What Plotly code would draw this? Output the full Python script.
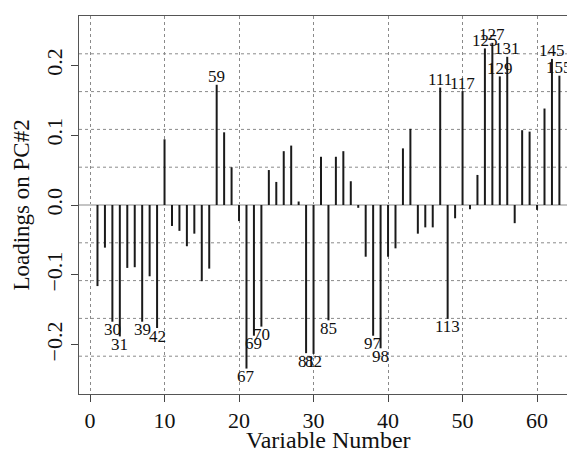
import plotly.graph_objects as go

# Loadings on PC#2 for variables 1..63
variable_number = list(range(1, 64))
loadings = [
    -0.116, -0.061, -0.167, -0.188, -0.090, -0.089, -0.167, -0.102, -0.176, 0.094,
    -0.030, -0.037, -0.059, -0.041, -0.109, -0.091, 0.172, 0.104, 0.054, -0.023,
    -0.234, -0.187, -0.174, 0.050, 0.033, 0.077, 0.085, 0.005, -0.212, -0.213,
    0.069, -0.165, 0.069, 0.077, 0.034, -0.004, -0.074, -0.187, -0.205, -0.074,
    -0.062, 0.081, 0.109, -0.041, -0.032, -0.032, 0.168, -0.163, -0.019, 0.163,
    -0.006, 0.043, 0.224, 0.232, 0.184, 0.212, -0.026, 0.107, 0.105, -0.007,
    0.138, 0.209, 0.185,
]
# labelled variables (index -> original variable id)
label_index = [3, 4, 7, 9, 17, 21, 22, 23, 29, 30, 32, 38, 39, 47, 48, 50, 53, 54, 55, 56, 62, 63]
label_text = ["30", "31", "39", "42", "59", "67", "69", "70", "81", "82", "85", "97", "98",
              "111", "113", "117", "125", "127", "129", "131", "145", "155"]
x_ticks = [0, 10, 20, 30, 40, 50, 60]
y_ticks = [-0.2, -0.1, 0.0, 0.1, 0.2]
y_tick_text = ["\u22120.2", "\u22120.1", "0.0", "0.1", "0.2"]

FONT = "Liberation Serif, Times New Roman, serif"
ylo, yhi = -0.2704, 0.2704
x_lo, x_hi = -1.48, 64.02

xs, ys = [], []
for xv, v in zip(variable_number, loadings):
    xs += [xv, xv, None]
    ys += [0, v, None]

fig = go.Figure()
fig.add_trace(go.Scatter(x=xs, y=ys, mode="lines",
                         line=dict(color="#1a1a1a", width=2),
                         hoverinfo="skip", showlegend=False))

for idx, txt in zip(label_index, label_text):
    v = loadings[idx - 1]
    fig.add_annotation(x=idx, y=v, text=txt, showarrow=False,
                       xanchor="center", yanchor="middle",
                       yshift=8 if v > 0 else -8,
                       font=dict(family=FONT, size=17, color="#111"))

# x-axis title, centred on the full (uncropped) plot region
fig.add_annotation(x=(x_lo + 65.48) / 2, xref="x", y=0, yref="paper",
                   yshift=-46, yanchor="middle", xanchor="center",
                   text="Variable Number", showarrow=False,
                   font=dict(family=FONT, size=24, color="#111"))

# dotted horizontal grid: 10 equal divisions of plot region
for k in range(1, 10):
    yy = ylo + (yhi - ylo) * k / 10
    fig.add_shape(type="line", xref="paper", yref="y", x0=0, x1=1, y0=yy, y1=yy,
                  line=dict(color="#8a8a8a", width=1, dash="dot"), layer="below")

fig.update_layout(
    width=567, height=460,
    margin=dict(l=79, r=0, t=16, b=66),
    plot_bgcolor="white", paper_bgcolor="white",
    font=dict(family=FONT, color="#111"),
    xaxis=dict(
        range=[x_lo, x_hi], tickvals=x_ticks, ticktext=[str(t) for t in x_ticks],
        ticks="outside", ticklen=7, tickcolor="#444", tickwidth=1,
        showline=True, linecolor="#555", linewidth=1, mirror=True,
        showgrid=True, gridcolor="#8a8a8a", griddash="dot", gridwidth=1,
        zeroline=False, tickfont=dict(size=22),
    ),
    yaxis=dict(
        range=[ylo, yhi], tickvals=y_ticks, ticktext=y_tick_text, tickangle=-90,
        ticks="outside", ticklen=7, tickcolor="#444", tickwidth=1,
        showline=True, linecolor="#555", linewidth=1, mirror=False, showgrid=False,
        zeroline=True, zerolinecolor="#c4c4c4", zerolinewidth=2,
        tickfont=dict(size=22),
        title=dict(text="Loadings on PC#2", font=dict(size=23), standoff=6),
    ),
)

fig.write_html("out.html")
